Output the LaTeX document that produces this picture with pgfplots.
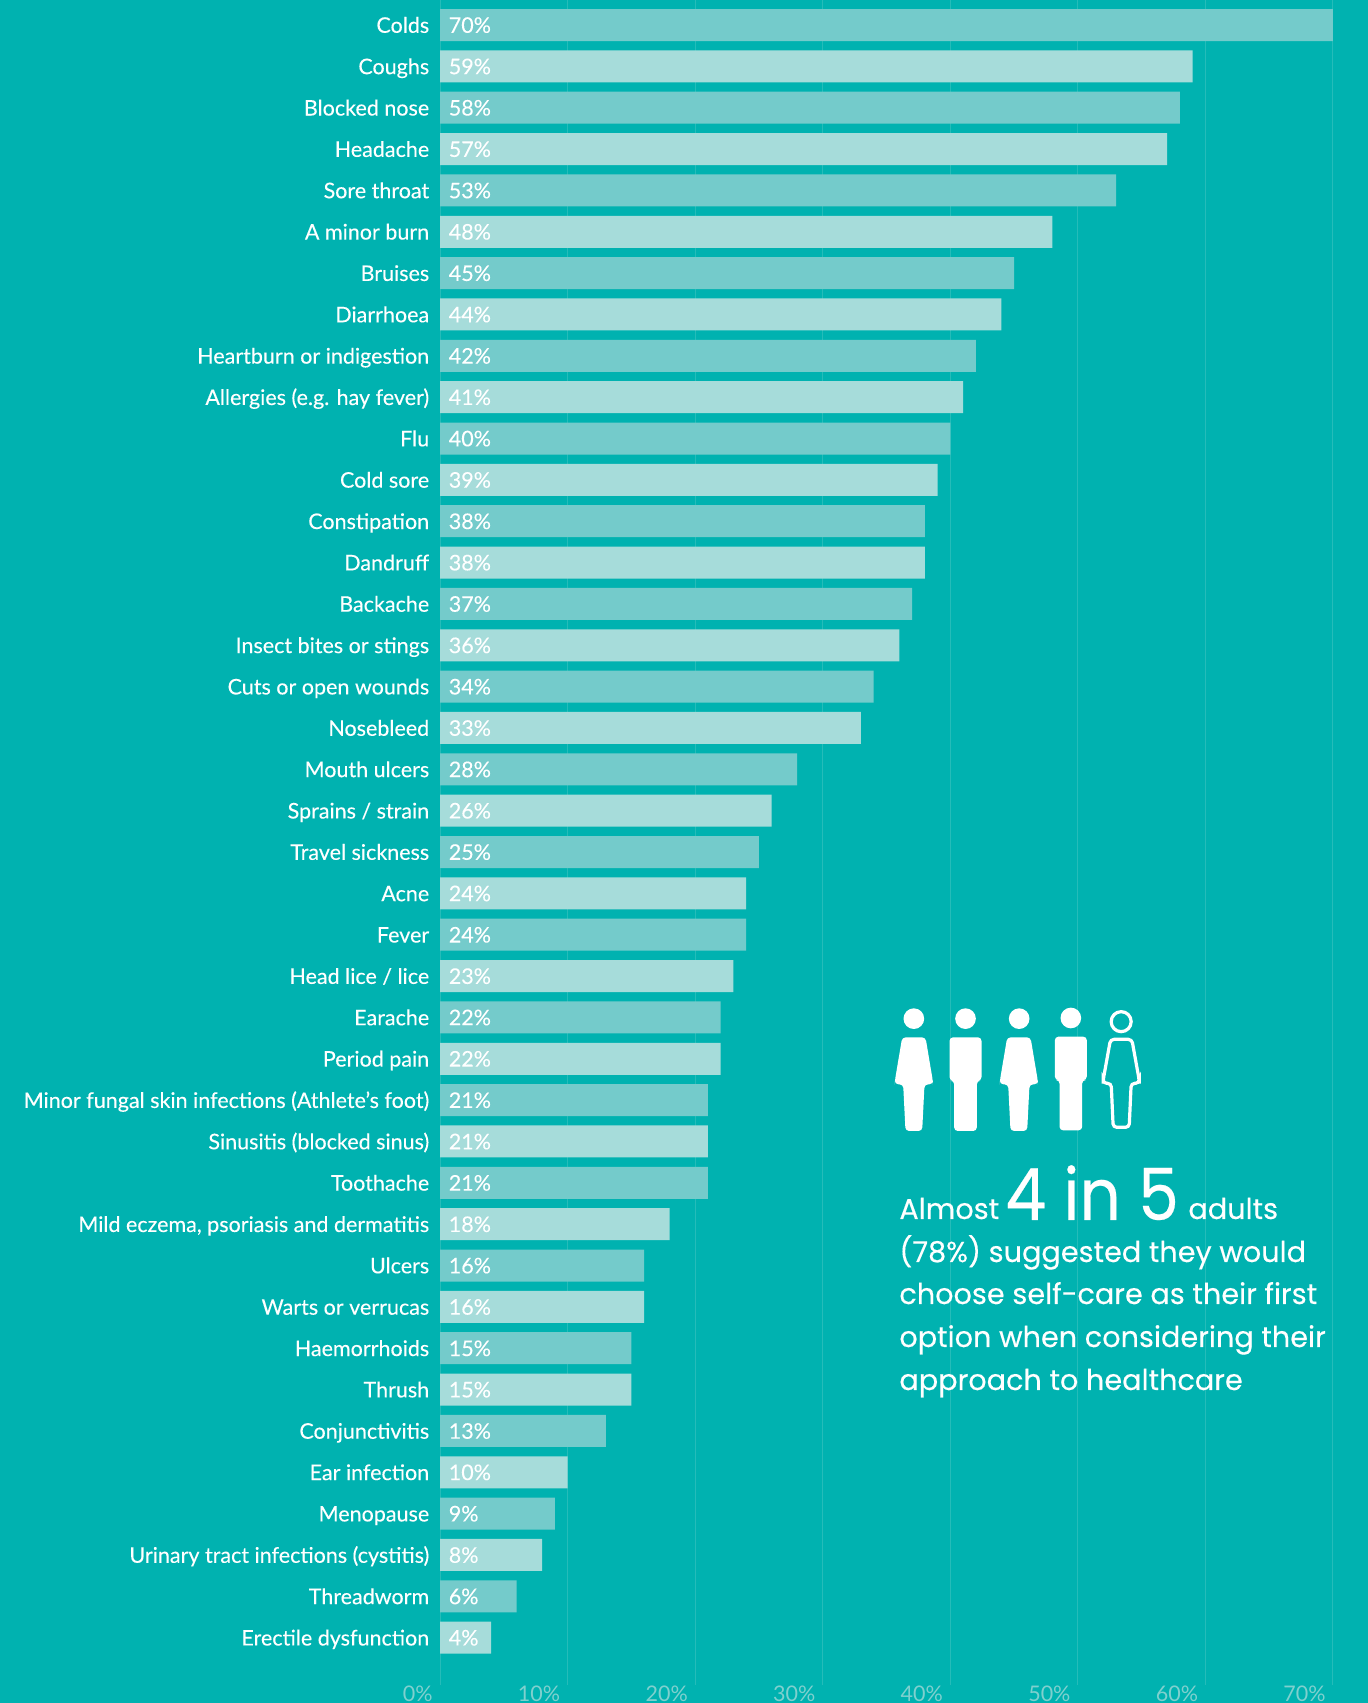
\documentclass[border=0pt]{standalone}
\usepackage{pgfplots}
\usepackage{pgfplotstable}
\usepackage{fontspec}
\pgfplotsset{compat=1.18}
\setmainfont{Lato}
\newfontfamily\calloutfont[FakeBold=0.25]{Poppins}
\newfontfamily\labelfont[FakeBold=0.15]{Lato}

\definecolor{pagebg}{HTML}{00B2B0}
\definecolor{bardark}{HTML}{74CBCB}
\definecolor{barlight}{HTML}{A6DCDA}
\definecolor{gridline}{HTML}{25BCB9}
\definecolor{ticktext}{HTML}{7FD0CE}

% Rows counted from the top of the chart; alternating rows share a tint
\pgfplotstableread{
row value
0 70
2 58
4 53
6 45
8 42
10 40
12 38
14 37
16 34
18 28
20 25
22 24
24 22
26 21
28 21
30 16
32 15
34 13
36 9
38 6
}\darkrows
\pgfplotstableread{
row value
1 59
3 57
5 48
7 44
9 41
11 39
13 38
15 36
17 33
19 26
21 24
23 23
25 22
27 21
29 18
31 16
33 15
35 10
37 8
39 4
}\lightrows

\newcommand{\womanpath}{(-35,172) -- (35,172) -- (57,303) -- (57,313) -- (32,313) -- (25,453) -- (-25,453) -- (-32,313) -- (-57,313) -- (-57,303) -- cycle}
\newcommand{\manpath}{(-48,172) -- (48,172) -- (48,302) -- (34,302) -- (34,453) -- (-34,453) -- (-34,302) -- (-48,302) -- cycle}

\begin{document}
\begin{tikzpicture}
\useasboundingbox (0,0) rectangle (684pt,851.5pt);
\clip (0,0) rectangle (684pt,851.5pt);
\fill[pagebg] (0,0) rectangle (684pt,851.5pt);

\begin{axis}[
  at={(220pt,9pt)}, anchor=south west,
  scale only axis, width=446.5pt, height=842.5pt,
  xmin=0, xmax=70,
  ymin=-0.605, ymax=40.145, y dir=reverse,
  clip=false,
  axis line style={draw=none},
  tick style={draw=none},
  major tick length=0pt,
  xmajorgrids,
  grid style={gridline, line width=0.5pt},
  /pgf/number format/assume math mode=true,
  xtick={0,10,20,30,40,50,60,70},
  xticklabels={0\%,10\%,20\%,30\%,40\%,50\%,60\%,70\%},
  x tick label style={font=\fontsize{10.75}{12}\selectfont, text=ticktext, anchor=north east, inner sep=0pt, xshift=-3.5pt, yshift=-0.4pt},
  ytick={0,...,39},
  yticklabels={Colds,Coughs,Blocked nose,Headache,Sore throat,A minor burn,Bruises,Diarrhoea,Heartburn or indigestion,Allergies (e.g. hay fever),Flu,Cold sore,Constipation,Dandruff,Backache,Insect bites or stings,Cuts or open wounds,Nosebleed,Mouth ulcers,Sprains / strain,Travel sickness,Acne,Fever,Head lice / lice,Earache,Period pain,Minor fungal skin infections (Athlete’s foot),Sinusitis (blocked sinus),Toothache,Mild eczema{,} psoriasis and dermatitis,Ulcers,Warts or verrucas,Haemorrhoids,Thrush,Conjunctivitis,Ear infection,Menopause,Urinary tract infections (cystitis),Threadworm,Erectile dysfunction},
  y tick label style={font=\labelfont\fontsize{10.75}{12}\selectfont, text=white, anchor=base east, inner sep=0pt, xshift=-5.2pt, yshift=-3.9pt},
  every node near coord/.style={font=\labelfont\fontsize{10.75}{12}\selectfont, text=white, anchor=base west, inner sep=0pt, xshift=4.2pt, yshift=-3.9pt},
]
\addplot[xbar, bar shift=0pt, bar width=16pt, fill=bardark, draw=none] table[x=value, y=row] {\darkrows};
\addplot[xbar, bar shift=0pt, bar width=16pt, fill=barlight, draw=none] table[x=value, y=row] {\lightrows};
% Percentages sit just inside the start of each bar
\addplot[draw=none, mark=none, point meta=explicit, nodes near coords={\pgfmathprintnumber{\pgfplotspointmeta}\%}] table[x expr=0, y=row, meta=value] {\darkrows};
\addplot[draw=none, mark=none, point meta=explicit, nodes near coords={\pgfmathprintnumber{\pgfplotspointmeta}\%}] table[x expr=0, y=row, meta=value] {\lightrows};
\end{axis}

% Callout, laid out in pixels from the top left corner of the page
\begin{scope}[shift={(0,851.5pt)}, x=0.5pt, y=-0.5pt]
  \begin{scope}[shift={(860.5,980)}, x=0.16667pt, y=-0.16667pt]
    \fill[white] (160,116) circle[radius=31*0.16667pt];
    \fill[white, rounded corners=1.8pt, shift={(160,0)}] \womanpath;
    \fill[white] (315,116) circle[radius=31*0.16667pt];
    \fill[white, rounded corners=1.8pt, shift={(315,0)}] \manpath;
    \fill[white] (476,116) circle[radius=31*0.16667pt];
    \fill[white, rounded corners=1.8pt, shift={(475,0)}] \womanpath;
    \fill[white] (631,114) circle[radius=31*0.16667pt];
    \fill[white, rounded corners=1.8pt, shift={(631,-2)}] \manpath;
    \draw[white, line width=1.6pt] (782,125) circle[radius=30*0.16667pt];
    \draw[white, line width=1.6pt, rounded corners=1.8pt, shift={(782,0)}]
      (-32,178) -- (32,178) -- (54,300) -- (54,310) -- (30,310) -- (24,442) -- (-24,442) -- (-30,310) -- (-54,310) -- (-54,300) -- cycle;
  \end{scope}
  \begin{scope}[every node/.style={anchor=base west, inner sep=0pt, text=white}, nodes={font=\calloutfont\fontsize{14.35}{18}\selectfont}]
    \node at (899,1219) {Almost};
    \node[font=\calloutfont\fontsize{36}{40}\selectfont, xscale=0.9] at (1005,1220) {4 in 5};
    \node at (1188,1219) {adults};
    \node at (899,1262) {(78\%) suggested they would};
    \node at (899,1304) {choose self-care as their first};
    \node at (899,1347) {option when considering their};
    \node at (899,1390) {approach to healthcare};
  \end{scope}
\end{scope}
\end{tikzpicture}
\end{document}
